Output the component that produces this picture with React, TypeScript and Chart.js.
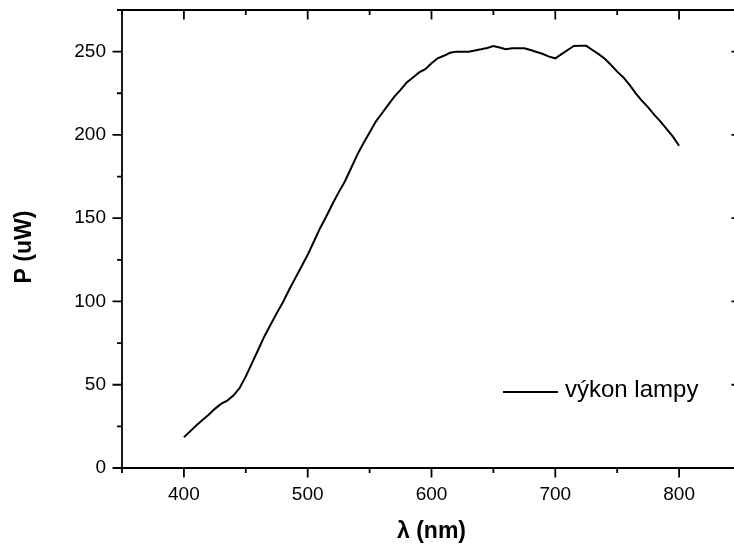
import React, { useEffect, useRef } from "react";
import { Chart, registerables } from "chart.js";

Chart.register(...registerables);

const wavelengths = [
  400, 405, 410, 415, 420, 425, 430, 435, 440, 445,
  450, 455, 460, 465, 470, 475, 480, 485, 490, 495,
  500, 505, 510, 515, 520, 525, 530, 535, 540, 545,
  550, 555, 560, 565, 570, 575, 580, 585, 590, 595,
  600, 605, 610, 615, 620, 625, 630, 635, 640, 645,
  650, 655, 660, 665, 670, 675, 680, 685, 690, 695,
  700, 705, 710, 715, 720, 725, 730, 735, 740, 745,
  750, 755, 760, 765, 770, 775, 780, 785, 790, 795,
  800,
];

const power = [
  18.5, 22, 25.5, 28.8, 32, 35.5, 38.5, 40.5, 43.5, 48,
  55, 63, 71, 79, 86, 93, 99.5, 107, 114, 121,
  128, 136, 144, 151, 158.5, 165.5, 172, 180, 188, 195,
  201.5, 208, 213, 218, 223, 227, 231.5, 234.5, 237.5, 239.5,
  243, 246, 247.5, 249.3, 250, 250, 250, 250.7, 251.4, 252.2,
  253.3, 252.5, 251.5, 252, 252, 252, 251, 249.8, 248.6, 247,
  246, 248.5, 251, 253.4, 253.5, 253.5, 251, 248.5, 245.7, 242,
  238, 234.5, 230, 225, 220.5, 216.5, 212, 208, 203.5, 199,
  193.5,
];

const seriesLabel = "výkon lampy";
const xTitle = "λ (nm)";
const yTitle = "P (uW)";

const xTickLabels = [400, 500, 600, 700, 800];
const yTickLabels = [0, 50, 100, 150, 200, 250];

const xMin = 350;
const xMax = 850;
const xMajorStep = 100;
const xMinorStep = 50;
const yMin = 0;
const yMax = 275;
const yMajorStep = 50;
const yMinorStep = 25;

const FONT = "'Liberation Sans', Arial, Helvetica, sans-serif";

const framePlugin = {
  id: "frameAndTicks",
  afterDraw(chart: any) {
    const { ctx, chartArea } = chart;
    const { left, right, top, bottom } = chartArea;
    const xs = chart.scales.x;
    const ys = chart.scales.y;
    ctx.save();
    ctx.strokeStyle = "#000";
    ctx.lineWidth = 1.8;
    ctx.lineCap = "butt";
    // frame
    ctx.beginPath();
    ctx.moveTo(left, top);
    ctx.lineTo(right, top);
    ctx.moveTo(left, bottom);
    ctx.lineTo(right, bottom);
    ctx.moveTo(left, top - 0.9);
    ctx.lineTo(left, bottom + 0.9);
    ctx.moveTo(right, top - 0.9);
    ctx.lineTo(right, bottom + 0.9);
    ctx.stroke();

    const major = 9.5;
    const minor = 5;
    ctx.beginPath();
    for (let v = xMin; v <= xMax + 1e-6; v += xMinorStep) {
      const px = xs.getPixelForValue(v);
      const len = Math.abs(v % xMajorStep) < 1e-6 ? major : minor;
      ctx.moveTo(px, bottom);
      ctx.lineTo(px, bottom + len);
      ctx.moveTo(px, top);
      ctx.lineTo(px, top + len);
    }
    for (let v = yMin; v <= yMax + 1e-6; v += yMinorStep) {
      const py = ys.getPixelForValue(v);
      const len = Math.abs(v % yMajorStep) < 1e-6 ? major : minor;
      ctx.moveTo(left, py);
      ctx.lineTo(left - len, py);
      ctx.moveTo(right, py);
      ctx.lineTo(right - len, py);
    }
    ctx.stroke();

    // axis titles
    ctx.fillStyle = "#000";
    ctx.font = `bold 23px ${FONT}`;
    ctx.textAlign = "center";
    ctx.textBaseline = "middle";
    ctx.fillText(xTitle, (left + right) / 2, bottom + 64);
    ctx.save();
    ctx.translate(25, (top + bottom) / 2 + 8);
    ctx.rotate(-Math.PI / 2);
    ctx.fillText(yTitle, 0, 0);
    ctx.restore();

    // legend
    const ds = chart.data.datasets[0];
    const lx = left + (right - left) * 0.6155;
    const ly = bottom - (bottom - top) * 0.166;
    ctx.strokeStyle = ds.borderColor;
    ctx.lineWidth = ds.borderWidth;
    ctx.beginPath();
    ctx.moveTo(lx, ly);
    ctx.lineTo(lx + 55, ly);
    ctx.stroke();
    ctx.font = `24px ${FONT}`;
    ctx.textAlign = "left";
    ctx.textBaseline = "alphabetic";
    ctx.fillText(ds.label, lx + 62, ly + 5);
    ctx.restore();
  },
};

export default function App() {
  const ref = useRef<HTMLCanvasElement | null>(null);

  useEffect(() => {
    if (!ref.current) return;
    const chart = new Chart(ref.current, {
      type: "line",
      data: {
        datasets: [
          {
            label: seriesLabel,
            data: wavelengths.map((w, i) => ({ x: w, y: power[i] })),
            borderColor: "#000",
            borderWidth: 2,
            pointRadius: 0,
            tension: 0,
            fill: false,
          },
        ],
      },
      options: {
        animation: false,
        responsive: false,
        layout: { padding: { top: 10, right: 9, left: 0, bottom: 0 } },
        plugins: {
          legend: { display: false },
          tooltip: { enabled: false },
        },
        scales: {
          x: {
            type: "linear",
            min: xMin,
            max: xMax,
            grid: { display: false, drawTicks: false },
            border: { display: false },
            afterBuildTicks: (s: any) => {
              s.ticks = xTickLabels.map((v) => ({ value: v }));
            },
            ticks: {
              padding: 15,
              color: "#000",
              font: { family: FONT, size: 19 },
              maxRotation: 0,
              autoSkip: false,
            },
            afterFit: (s: any) => {
              s.height = 79;
              s.paddingLeft = 0;
              s.paddingRight = 0;
              s.paddingTop = 0;
              s.paddingBottom = 0;
            },
          },
          y: {
            type: "linear",
            min: yMin,
            max: yMax,
            grid: { display: false, drawTicks: false },
            border: { display: false },
            afterBuildTicks: (s: any) => {
              s.ticks = yTickLabels.map((v) => ({ value: v }));
            },
            ticks: {
              padding: 16,
              color: "#000",
              font: { family: FONT, size: 19 },
              autoSkip: false,
            },
            afterFit: (s: any) => {
              s.width = 122;
              s.paddingLeft = 0;
              s.paddingRight = 0;
              s.paddingTop = 0;
              s.paddingBottom = 0;
            },
          },
        },
      },
      plugins: [framePlugin],
    });
    return () => chart.destroy();
  }, []);

  return (
    <div style={{ position: "fixed", left: 0, top: 0, width: 734, height: 547, overflow: "hidden", background: "#fff" }}>
      <canvas ref={ref} width={750} height={547} style={{ display: "block" }} />
    </div>
  );
}
